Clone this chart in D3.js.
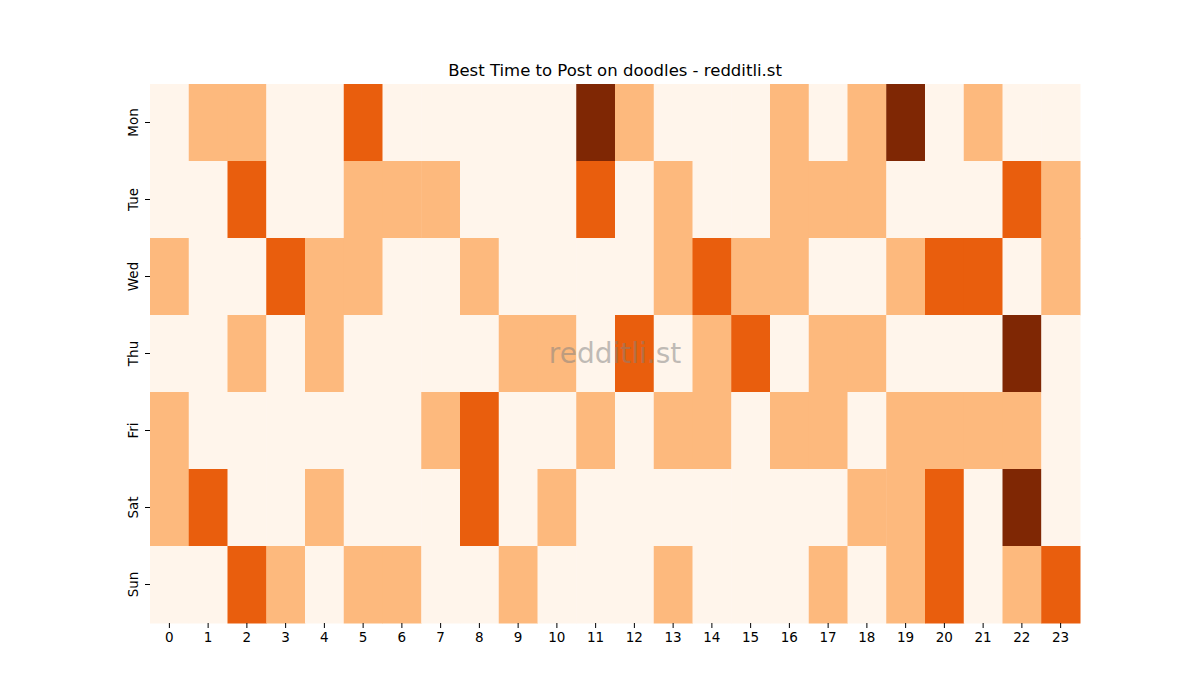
<!DOCTYPE html>
<html>
<head>
<meta charset="utf-8">
<script src="https://cdn.jsdelivr.net/npm/d3@7"></script>
<style>
  body { margin: 0; background: #fff; }
  text { font-family: "DejaVu Sans", sans-serif; fill: #000; }
</style>
</head>
<body>
<div id="heatmap"></div>
<script>
// rows and columns of the heatmap
var days = ["Mon", "Tue", "Wed", "Thu", "Fri", "Sat", "Sun"];
var hours = d3.range(24).map(String);

// posting score per day, one value per hour (0 - 3)
var mon = [0,1,1,0,0,2,0,0,0,0,0,3,1,0,0,0,1,0,1,3,0,1,0,0];
var tue = [0,0,2,0,0,1,1,1,0,0,0,2,0,1,0,0,1,1,1,0,0,0,2,1];
var wed = [1,0,0,2,1,1,0,0,1,0,0,0,0,1,2,1,1,0,0,1,2,2,0,1];
var thu = [0,0,1,0,1,0,0,0,0,1,1,0,2,0,1,2,0,1,1,0,0,0,3,0];
var fri = [1,0,0,0,0,0,0,1,2,0,0,1,0,1,1,0,1,1,0,1,1,1,1,0];
var sat = [1,2,0,0,1,0,0,0,2,0,1,0,0,0,0,0,0,0,1,1,2,0,3,0];
var sun = [0,0,2,1,0,1,1,0,0,1,0,0,0,1,0,0,0,1,0,1,2,0,1,2];

var title = "Best Time to Post on doodles - redditli.st";

function drawHeatmap() {
  var margin = {top: 84, right: 120, bottom: 77, left: 150},
      width = 1200 - margin.left - margin.right,
      height = 700 - margin.top - margin.bottom;

  var rows = [mon, tue, wed, thu, fri, sat, sun];
  var cells = [];
  rows.forEach(function(r, i) {
    r.forEach(function(v, j) {
      cells.push({day: days[i], hour: hours[j], value: v});
    });
  });

  var svg = d3.select("#heatmap").append("svg")
    .attr("width", 1200)
    .attr("height", 700)
    .append("g")
    .attr("transform", "translate(" + margin.left + "," + margin.top + ")");

  var x = d3.scaleBand().range([0, width]).domain(hours).padding(0);
  var y = d3.scaleBand().range([0, height]).domain(days).padding(0);

  // same steps as matplotlib's Oranges at 0, 1/3, 2/3, 1
  var color = d3.scaleOrdinal()
    .domain([0, 1, 2, 3])
    .range(["#fff5eb", "#fdb97d", "#e95e0d", "#7f2704"]);

  svg.selectAll("rect.cell")
    .data(cells)
    .enter()
    .append("rect")
    .attr("class", "cell")
    .attr("x", d => x(d.hour))
    .attr("y", d => y(d.day))
    .attr("width", x.bandwidth() + 0.5)
    .attr("height", y.bandwidth() + 0.5)
    .style("fill", d => color(d.value));

  // x axis
  var xAxis = svg.append("g")
    .attr("transform", "translate(0," + height + ")")
    .call(d3.axisBottom(x).tickSize(5).tickPadding(4));
  xAxis.select(".domain").remove();
  xAxis.selectAll("text").style("font-size", "13.5px").attr("font-family", "DejaVu Sans");
  xAxis.selectAll("line").attr("stroke", "#000").attr("stroke-width", 1);

  // y axis, rotated labels
  var yAxis = svg.append("g")
    .call(d3.axisLeft(y).tickSize(5).tickPadding(4));
  yAxis.select(".domain").remove();
  yAxis.selectAll("line").attr("stroke", "#000").attr("stroke-width", 1);
  yAxis.selectAll("text")
    .style("font-size", "13.5px")
    .attr("font-family", "DejaVu Sans")
    .attr("x", 0)
    .attr("dy", 0)
    .attr("text-anchor", "middle")
    .attr("transform", "translate(-12,0) rotate(-90)");

  // title
  svg.append("text")
    .attr("x", width / 2)
    .attr("y", -8)
    .attr("text-anchor", "middle")
    .style("font-size", "16.5px")
    .text(title);

  // watermark
  svg.append("text")
    .attr("x", width / 2)
    .attr("y", height / 2)
    .attr("dy", "0.35em")
    .attr("text-anchor", "middle")
    .style("font-size", "28px")
    .style("fill", "#808080")
    .style("fill-opacity", 0.5)
    .text("redditli.st");
}

drawHeatmap();
</script>
</body>
</html>
